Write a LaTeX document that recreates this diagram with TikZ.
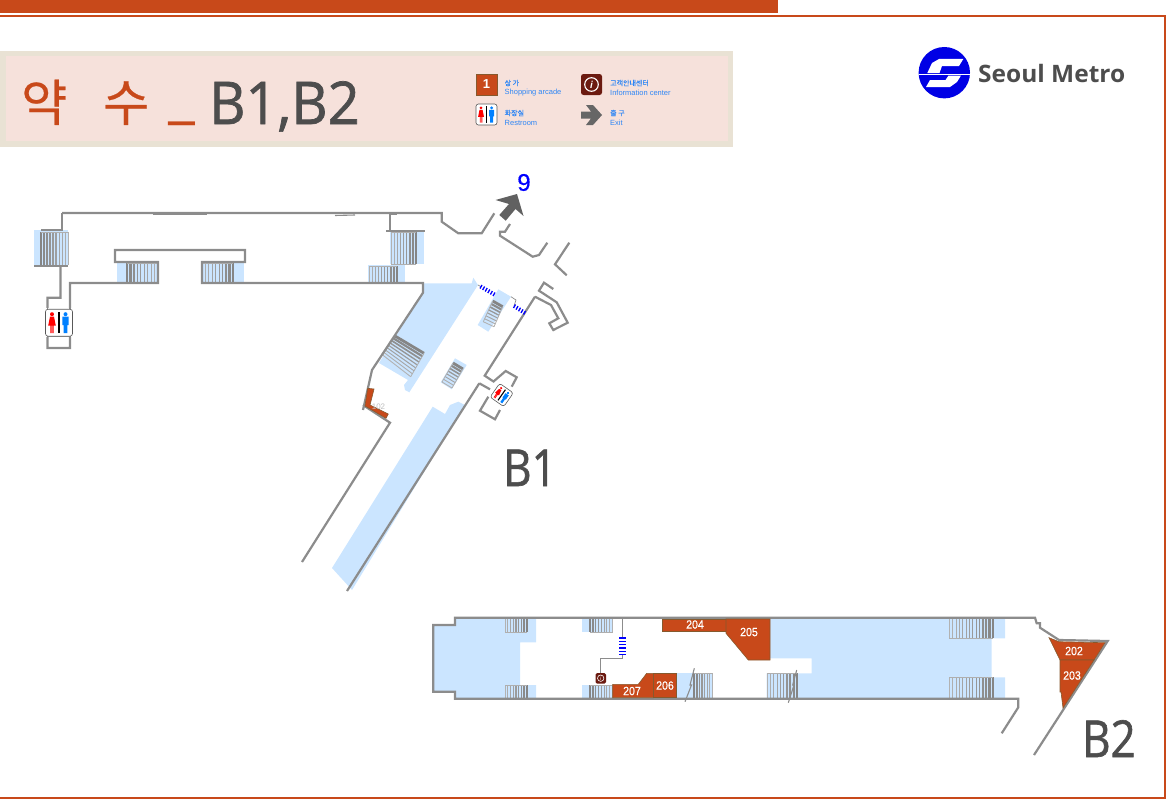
\documentclass[tikz,border=0pt]{standalone}
\usepackage{fontspec}
\setmainfont{Open Sans}
\newfontfamily\krfont[FakeBold=0.5]{Noto Sans CJK KR}
\newfontfamily\legkrfont[FakeBold=0.3]{Noto Sans CJK KR}
\newfontfamily\arialfont{Liberation Sans}
\newfontfamily\shopfont[FakeStretch=0.88,FakeBold=0.4]{Liberation Sans}
\newfontfamily\ninefont[FakeBold=0.5]{Liberation Sans}
\newfontfamily\titlefont[FakeBold=1.2,FakeStretch=0.95]{Open Sans}
\newfontfamily\floorfont[FakeBold=1.2,FakeStretch=0.86]{Open Sans}
\newfontfamily\logofont[FakeStretch=1.02]{Open Sans}
\usetikzlibrary{calc}
\definecolor{rustred}{HTML}{C8491A}
\definecolor{platblue}{HTML}{CBE5FF}
\definecolor{wallgray}{HTML}{8C8C8C}
\definecolor{darktext}{HTML}{4D4D4D}
\definecolor{legendblue}{HTML}{2E86F5}
\definecolor{infobrown}{HTML}{6B1A10}
\definecolor{titleedge}{HTML}{E9E2D4}
\definecolor{titlefill}{HTML}{F6E1DB}
\tikzstyle{wall} = [draw=wallgray, line width=2.2pt, line join=miter]
\tikzstyle{thinwall} = [draw=wallgray, line width=1.1pt]
\tikzstyle{platform} = [fill=platblue, draw=none]
\tikzstyle{shop} = [fill=rustred, draw=brown!70!black, line width=0.6pt]
\tikzstyle{shoplabel} = [text=white, font=\shopfont\fontsize{12}{12}\selectfont, inner sep=0pt]
\tikzstyle{floorname} = [text=darktext, font=\floorfont\fontsize{51}{51}\selectfont, inner sep=0pt, anchor=base west]
\tikzstyle{legendtext} = [text=legendblue, font=\arialfont\fontsize{7.5}{7.5}\selectfont, inner sep=0pt, anchor=west]
\tikzstyle{legendkr} = [text=legendblue, font=\legkrfont\fontsize{7}{7}\selectfont, inner sep=0pt, anchor=west]
\tikzstyle{bluestep} = [draw=blue, line width=1.3pt]

% treads from the light end A--B to the dark end D--C
\newcommand{\stairs}[5]{%
  \foreach \t in {0,...,#5}{%
    \pgfmathsetmacro\f{\t/#5}
    \pgfmathsetmacro\g{30+18*\f}
    \pgfmathsetmacro\w{0.9+1.9*\f*\f*\f}
    \draw [draw=black!\g, line width=\w pt] ($#1!\f!#4$) -- ($#2!\f!#3$);
  }
  \draw [draw=wallgray!70, line width=0.8pt] #1 -- #4 #2 -- #3;
}
% restroom sign
\newcommand{\wcsign}[4]{%
  \begin{scope}[shift={(#1,#2)}, rotate=#3, scale=#4]
    \draw [fill=white, draw=black!65, line width=0.6pt, rounded corners=2.5pt] (-13.5,-13.5) rectangle (13.5,13.5);
    \fill [red] (-7,-8.5) circle (2);
    \fill [red] (-9,-6) -- (-5,-6) -- (-3.2,3) -- (-5.4,3) -- (-5.4,10.5) -- (-6.6,10.5) -- (-6.6,3) -- (-7.4,3) -- (-7.4,10.5) -- (-8.6,10.5) -- (-8.6,3) -- (-10.8,3) -- cycle;
    \draw [black, line width=1.1pt] (0,-10.5) -- (0,10.5);
    \fill [blue!50!cyan] (6.5,-8.5) circle (2);
    \fill [blue!50!cyan] (3.3,-6) -- (9.7,-6) -- (9.7,2.5) -- (8.4,2.5) -- (8.4,10.5) -- (4.6,10.5) -- (4.6,2.5) -- (3.3,2.5) -- cycle;
  \end{scope}
}

\begin{document}
\begin{tikzpicture}[x=1pt, y=-1pt]
\useasboundingbox (0,0) rectangle (1166,800);

% Frame
\fill [rustred] (0,0) rectangle (778,13);
\draw [draw=rustred, line width=2pt] (0,16) -- (1165,16) -- (1165,797.5) -- (0,797.5);

% Title
\fill [titleedge] (0,51) rectangle (733,147);
\fill [titlefill] (6,56.5) rectangle (728,141);
\node (titlea) [inner sep=0pt, anchor=base west, text=rustred, font=\krfont\fontsize{50}{50}\selectfont] at (21,121) {약};
\node (titleb) [inner sep=0pt, anchor=base west, text=rustred, font=\krfont\fontsize{50}{50}\selectfont] at (103,121) {수};
\node (titlec) [inner sep=0pt, anchor=base west, text=rustred, font=\fontsize{60}{60}\selectfont] at (168.5,116) {\_};
\node (titled) [floorname, font=\titlefont\fontsize{59}{59}\selectfont] at (209,124) {B1,B2};

% Legend
\draw [shop, fill=rustred] (476,74) rectangle (497,95);
\node (legone) [text=white, font=\arialfont\bfseries\fontsize{13}{13}\selectfont, inner sep=0pt] at (486.5,84.5) {1};
\fill [infobrown, rounded corners=2.5pt] (581,74) rectangle (602,95);
\draw [white, line width=1.1pt] (591.5,84.5) circle (6.8);
\node (leginfo) [text=white, font=\arialfont\bfseries\itshape\fontsize{10}{10}\selectfont, inner sep=0pt] at (591.5,84.5) {i};
\wcsign{486.5}{114.5}{0}{0.78}
\fill [black!60] (581,111.5) -- (591,111.5) -- (586,105) -- (593,105) -- (602,115) -- (593,125) -- (586,125) -- (591,118.5) -- (581,118.5) -- cycle;
\node (legkra) [legendkr] at (504.5,83) {상 가};
\node (legena) [legendtext] at (504.5,92.5) {Shopping arcade};
\node (legkrb) [legendkr] at (610,83) {고객안내센터};
\node (legenb) [legendtext] at (610,92.5) {Information center};
\node (legkrc) [legendkr] at (504.5,113) {화장실};
\node (legenc) [legendtext] at (504.5,122.5) {Restroom};
\node (legkrd) [legendkr] at (610,113) {출 구};
\node (legend) [legendtext] at (610,122.5) {Exit};

% Logo
\fill [blue!90!black] (944.3,72.7) circle (25.7);
\fill [white] (963.3,59) -- (939,59) -- (932,63) -- (927.3,73) -- (939.5,73) -- (942,66) -- (959,66) -- cycle;
\fill [white] (926,87) -- (950,87) -- (957,82) -- (961,75.5) -- (948.5,75.5) -- (945.5,80) -- (930,80) -- cycle;
\draw [white, line width=0.8pt] (919,74.3) -- (970,74.3);
\node (logotext) [text=darktext, font=\logofont\bfseries\fontsize{24}{24}\selectfont, inner sep=0pt, anchor=base west] at (978,82) {Seoul Metro};

% B1 platforms
\fill [platform] (34,230) rectangle (68,266);
\fill [platform] (117,262) rectangle (158,283);
\fill [platform] (202,262) rectangle (244,283);
\fill [platform] (390,232) rectangle (424,264);
\fill [platform] (368,265) rectangle (405,283);
\fill [platform] (423.3,283.3) -- (471.7,283.3) -- (473.3,277.7) -- (478,285) -- (409.3,392.3) -- (405,390) -- (404,385) -- (408,380) -- (379,363) -- (423,292.7) -- cycle;
\fill [platform] (432.7,406.7) -- (445,414) -- (450,405) -- (458.3,401.7) -- (465,405) -- (352,590) -- (332,568) -- cycle;
\fill [platform] (498.3,289.3) -- (511,296.7) -- (488.3,331.7) -- (477.7,325) -- cycle;
\fill [platform] (455,358.3) -- (466.7,365) -- (451.7,389.3) -- (440.7,382.3) -- cycle;

% B1 stairs
\stairs{(68,232)}{(68,265)}{(41,265)}{(41,232)}{9}
\stairs{(158,263)}{(158,283)}{(127,283)}{(127,263)}{9}
\stairs{(202,263)}{(202,283)}{(233,283)}{(233,263)}{9}
\stairs{(391,232)}{(391,264)}{(416,264)}{(416,232)}{8}
\stairs{(369,266)}{(369,283)}{(397,283)}{(397,266)}{9}
\stairs{(382.7,355)}{(410.7,376.7)}{(424,353.3)}{(395,336)}{8}
\stairs{(483.3,321.7)}{(494,326.7)}{(502.7,306.7)}{(492.7,301)}{7}
\stairs{(442,382)}{(452,388)}{(463,369)}{(453,363)}{7}

% B1 walls
\draw [wall] (62,213) -- (355,213) -- (441.7,213) -- (441.7,221.7) -- (458.3,233.3) -- (481.7,233.3) -- (494.3,213.3);
\draw [thinwall] (153,214) -- (207,214);
\draw [thinwall] (335,215.5) -- (355,215);
\draw [wall] (390,213.5) -- (397,213.5) (390,214) -- (390,230);
\draw [wall, line width=2.8pt] (386,231) -- (425,231);
\draw [wall] (62,213) -- (62,230) -- (41,230);
\draw [wall] (34,266) -- (68,266);
\draw [wall] (60.5,266) -- (60.5,297.7) -- (47.5,297.7) -- (47.5,348) -- (70,348) -- (70,283) -- (158,283) -- (158,262) -- (115,262) -- (115,250) -- (245,250) -- (245,262) -- (202,262) -- (202,283) -- (423,283) -- (423,292.7) -- (372,370) -- (363,410);
\draw [wall] (363,405) -- (390,422.7) -- (302,562);
\draw [wall] (535,296.7) -- (484.7,375.7) -- (493.5,381.5) -- (505.7,371) -- (516.7,377.3) -- (511.7,386.7);
\draw [wall] (479.3,383.3) -- (347,591);
\draw [wall] (479.3,383.3) -- (490,389.3);
\draw [wall] (488.3,396.7) -- (480,410.7) -- (495,419.3) -- (500,410);
\draw [wall] (510,224) -- (505,231.7) -- (500,231.7) -- (500,235.7) -- (532.7,256.7) -- (539,255) -- (547.3,242.7);
\draw [wall] (569.3,242.7) -- (555,264.3) -- (566.7,275.3);
\draw [wall] (553.3,289) -- (544,282.7) -- (539,290.7) -- (556.7,302.3) -- (567.7,322.7) -- (553.3,330) -- (549.3,323.3) -- (558.3,318.3) -- (551,305) -- (535,296.7);

% B1 blue steps
\draw [thinwall, line width=0.7pt] (478,285) -- (481,286.7);
\draw [thinwall, line width=0.7pt] (511,296.7) -- (516,300) -- (514,306);
\foreach \t in {0,0.2,0.4,0.6,0.8,1}{
  \draw [bluestep] ($(482,285)!\t!(495,292.5)$) -- ($(480,288.5)!\t!(493,296)$);
}
\foreach \t in {0,0.25,0.5,0.75,1}{
  \draw [bluestep] ($(515.5,304.5)!\t!(525.5,311)$) -- ($(513.5,308)!\t!(523.5,314.5)$);
}

% B1 shop
\draw [shop] (367.7,388.3) -- (374,389) -- (370,405) -- (388.3,414) -- (386,418.3) -- (365,406) -- cycle;
\node (shopb) [text=black!25, font=\arialfont\fontsize{8}{8}\selectfont, inner sep=0pt] at (378.5,406.5) {102};

% B1 signs
\fill [white] (45,308) rectangle (73,337);
\draw [wall, line width=1.4pt] (47.5,308) -- (47.5,337) (70,308) -- (70,337);
\draw [wall, draw=black!25, line width=1.4pt] (47.5,309.5) -- (70,309.5) (47.5,336) -- (70,336);
\wcsign{59}{322.7}{0}{1}
\wcsign{501.7}{395}{-35}{0.62}

% B1 exit arrow
\fill [black!62] (495.5,200) -- (517,194) -- (523.5,216) -- (515.5,209) -- (505.7,220.7) -- (499.3,215) -- (509,204) -- cycle;
\node (exitnine) [text=blue, font=\ninefont\fontsize{24}{24}\selectfont, inner sep=0pt] at (524,182.5) {9};

\node (floorbone) [floorname] at (503,486) {B1};

% B2 platforms
\fill [platform] (455,618) -- (536,618) -- (536,642.3) -- (520,642.3) -- (520,685) -- (536,685) -- (536,698) -- (455,698) -- (455,691.7) -- (433,691.7) -- (433,625) -- (455,625) -- cycle;
\fill [platform] (770,618.3) -- (1005,618.3) -- (1005,638.3) -- (991.7,638.3) -- (991.7,677.3) -- (1005,677.3) -- (1005,698.3) -- (766.7,698) -- (766.7,673.3) -- (811.7,673.3) -- (811.7,658.3) -- (770,658.3) -- cycle;
\fill [platform] (581.7,618) rectangle (612.7,632.3);
\fill [platform] (581.7,685) rectangle (612.7,698);
\fill [platform] (676.7,673.3) rectangle (712.7,698);

% B2 stairs
\stairs{(505,618)}{(505,632.3)}{(527,632.3)}{(527,618)}{8}
\stairs{(505,685)}{(505,698)}{(527,698)}{(527,685)}{8}
\stairs{(612.5,618)}{(612.5,632.3)}{(590,632.3)}{(590,618)}{8}
\stairs{(612.5,685)}{(612.5,698)}{(590,698)}{(590,685)}{8}
\stairs{(712.5,673.3)}{(712.5,698)}{(694,698)}{(694,673.3)}{7}
\stairs{(767,673.3)}{(767,698)}{(797,698)}{(797,673.3)}{9}
\stairs{(949.3,618)}{(949.3,638.3)}{(993,638.3)}{(993,618)}{13}
\stairs{(949.3,677.3)}{(949.3,698)}{(993,698)}{(993,677.3)}{13}

% B2 walls
\draw [wall] (1034,755) -- (1107.7,641) -- (1059,640) -- (1040,627.7) -- (1040,623.3) -- (1036.7,623.3) -- (1035,617.7) -- (455,617.7) -- (455,625) -- (433.3,625) -- (433.3,691.7) -- (455,691.7) -- (455,698.7) -- (1018.3,698.7) -- (1018.3,707.3) -- (1001.7,733.3);
\draw [thinwall] (694.3,668.3) -- (690,685) -- (691.5,685) -- (685,701.7);
\draw [thinwall] (796.7,670) -- (792.7,685) -- (794,685) -- (788.3,702.7);
\draw [thinwall] (622.3,618) -- (622.3,637);
\draw [thinwall] (622.3,655) -- (622.3,658.3) -- (600.7,658.3) -- (600.7,673.3);
\foreach \t in {0,...,5}{
  \draw [bluestep] ($(619,638)!\t/5!(619,654.5)$) -- ($(626,638)!\t/5!(626,654.5)$);
}

% B2 shops
\draw [shop] (662.7,619) rectangle (726,631);
\draw [shop] (726,619) -- (770,619) -- (770,660) -- (748.3,660) -- (726,633.3) -- cycle;
\draw [shop] (612.7,684.3) -- (638.3,684.3) -- (646.7,673.3) -- (653.3,673.3) -- (653.3,697.7) -- (612.7,697.7) -- cycle;
\draw [shop] (653.3,673.3) rectangle (676.7,697.7);
\draw [shop] (1049,637.7) -- (1059,641.7) -- (1105,642.7) -- (1094,660) -- (1060,660) -- cycle;
\draw [shop] (1060,660) -- (1094,660) -- (1063,708) -- (1061,692) -- (1060,692) -- cycle;
\node (shopa) [shoplabel] at (695,624.5) {204};
\node (shopc) [shoplabel] at (749,632) {205};
\node (shopd) [shoplabel] at (665,685.5) {206};
\node (shope) [shoplabel] at (632,691) {207};
\node (shopf) [shoplabel] at (1074,651) {202};
\node (shopg) [shoplabel] at (1072,675.5) {203};

% B2 info sign
\fill [infobrown, rounded corners=1.5pt] (595.5,673) rectangle (606,683.5);
\draw [white, line width=0.6pt] (600.7,678.2) circle (3.2);
\node (bbinfo) [text=white, font=\arialfont\itshape\fontsize{5}{5}\selectfont, inner sep=0pt] at (600.7,678.2) {i};

\node (floorbtwo) [floorname] at (1082,757) {B2};

\end{tikzpicture}
\end{document}
